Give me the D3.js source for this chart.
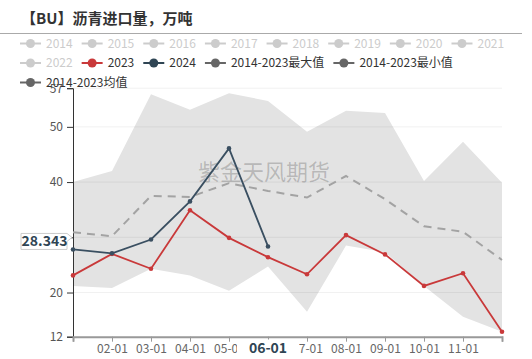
<!DOCTYPE html>
<html>
<head>
<meta charset="utf-8">
<script src="https://cdn.jsdelivr.net/npm/d3@7/dist/d3.min.js"></script>
<style>
  body { margin: 0; background: #fff; }
  svg { display: block; font-family: "Noto Sans CJK SC", "Noto Sans", sans-serif; }
</style>
</head>
<body>
<svg id="chart" width="532" height="359"></svg>
<script>
const categories = ['01-01', '02-01', '03-01', '04-01', '05-01', '06-01', '07-01', '08-01', '09-01', '10-01', '11-01', '12-01'];
const maxVals = [40.0, 42.0, 55.9, 53.1, 56.1, 54.7, 49.1, 52.9, 52.5, 40.2, 47.3, 39.9];
const minVals = [21.2, 20.8, 24.3, 23.1, 20.3, 24.7, 16.5, 28.5, 27.3, 21.2, 15.6, 12.9];
const meanVals = [30.9, 30.2, 37.5, 37.3, 39.8, 38.4, 37.2, 41.1, 36.9, 32.0, 31.0, 25.9];
const vals2023 = [23.1, 27.0, 24.3, 34.9, 29.9, 26.4, 23.3, 30.4, 26.9, 21.2, 23.5, 12.9];
const vals2024 = [27.8, 27.1, 29.6, 36.5, 46.1, 28.343];
const yTicks = [12, 20, 30, 40, 50, 57];
const legendNames = ['2014', '2015', '2016', '2017', '2018', '2019', '2020', '2021', '2022', '2023', '2024',
  '2014-2023最大值', '2014-2023最小值', '2014-2023均值'];
const pointerCat = '06-01';
const pointerVal = 28.343;

const svg = d3.select('#chart');

const x = d3.scalePoint().domain(categories).range([73, 502]);
const y = d3.scaleLinear().domain([12, 57]).range([336.7, 88.2]);

// title
svg.append('text')
  .attr('x', 21).attr('y', 24)
  .style('font-size', '15px').style('font-weight', 'bold').style('fill', '#333')
  .text('【BU】沥青进口量，万吨');
svg.append('line')
  .attr('x1', 0).attr('x2', 522).attr('y1', 33.5).attr('y2', 33.5)
  .attr('stroke', '#aaa');

// legend
const legendColor = name => {
  if (name === '2023') return '#c9393a';
  if (name === '2024') return '#2f4554';
  if (name.startsWith('2014-2023')) return '#666';
  return '#ccc';
};
let lx = 20, ly = 43.5;
legendNames.forEach(name => {
  const g = svg.append('g');
  const c = legendColor(name);
  const active = c !== '#ccc';
  const t = g.append('text')
    .attr('x', 26).attr('y', 4)
    .style('font-size', '12px')
    .style('fill', active ? '#333' : '#ccc')
    .text(name);
  const w = 26 + t.node().getComputedTextLength() + 9;
  if (lx + w > 525) { lx = 20; ly += 19.5; }
  g.attr('transform', `translate(${lx},${ly})`);
  g.append('line').attr('x1', 0).attr('x2', 21).attr('y1', 0).attr('y2', 0)
    .attr('stroke', c).attr('stroke-width', 2);
  g.append('circle').attr('cx', 10.5).attr('cy', 0).attr('r', 4.5).attr('fill', c);
  lx += w;
});

// band min-max
const band = d3.area()
  .x((d, i) => x(categories[i]))
  .y0((d, i) => y(minVals[i]))
  .y1(d => y(d));
svg.append('path').datum(maxVals)
  .attr('d', band).attr('fill', '#e3e3e3');

// grid
svg.append('g').selectAll('line').data(yTicks.slice(1)).join('line')
  .attr('x1', 73).attr('x2', 502)
  .attr('y1', d => y(d)).attr('y2', d => y(d))
  .attr('stroke', '#000').attr('stroke-opacity', 0.06);

// watermark
svg.append('text')
  .attr('x', 198).attr('y', 180)
  .style('font-size', '22px').style('fill', '#000').style('fill-opacity', 0.2)
  .text('紫金天风期货');

// y axis
const yAxis = svg.append('g').attr('transform', 'translate(73,0)')
  .call(d3.axisLeft(y).tickValues(yTicks).tickSize(6).tickPadding(4).tickFormat(d3.format('d')));
yAxis.select('.domain').attr('stroke', '#333');
yAxis.selectAll('.tick line').attr('stroke', '#333');
yAxis.selectAll('.tick text').style('font-size', '12px').style('fill', '#555')
  .style('font-family', '"Noto Sans CJK SC", sans-serif');

// x axis
const xAxis = svg.append('g').attr('transform', 'translate(0,336.7)')
  .call(d3.axisBottom(x).tickSize(5).tickPadding(3)
    .tickFormat((d, i) => (i === 0 || i === categories.length - 1) ? '' : d));
xAxis.select('.domain').attr('stroke', '#999').attr('stroke-width', 2);
xAxis.selectAll('.tick line').attr('stroke', '#999');
xAxis.selectAll('.tick text').style('font-size', '12px').style('fill', '#666')
  .style('font-family', '"Noto Sans CJK SC", sans-serif');

// mean dashed
const line = d3.line().x((d, i) => x(categories[i])).y(d => y(d));
svg.append('path').datum(meanVals)
  .attr('d', line).attr('fill', 'none')
  .attr('stroke', '#a3a3a3').attr('stroke-width', 2).attr('stroke-dasharray', '8,6');

// 2023 and 2024
[[vals2023, '#c9393a'], [vals2024, '#3a4f61']].forEach(([vals, col]) => {
  svg.append('path').datum(vals)
    .attr('d', line).attr('fill', 'none')
    .attr('stroke', col).attr('stroke-width', 1.8);
  svg.append('g').selectAll('circle').data(vals).join('circle')
    .attr('cx', (d, i) => x(categories[i])).attr('cy', d => y(d))
    .attr('r', 2.3).attr('fill', col);
});

// x pointer label
const px = x(pointerCat);
svg.append('rect').attr('x', px - 31).attr('y', 339.5).attr('width', 62).attr('height', 19)
  .attr('fill', '#fff');
svg.append('text').attr('x', px).attr('y', 353)
  .attr('text-anchor', 'middle')
  .style('font-size', '14px').style('font-weight', 'bold').style('fill', '#2f4554')
  .text(pointerCat);

// y pointer label
const py = y(pointerVal) - 5;
svg.append('path')
  .attr('d', `M21,${py - 8} H67 L72,${py - 4} L67,${py} V${py + 8} H21 Z`)
  .attr('fill', '#fff').attr('stroke', '#ccc');
svg.append('text').attr('x', 44.5).attr('y', py + 5)
  .attr('text-anchor', 'middle')
  .style('font-size', '14px').style('font-weight', 'bold').style('fill', '#2f4554')
  .text(d3.format('.3f')(pointerVal));
</script>
</body>
</html>
